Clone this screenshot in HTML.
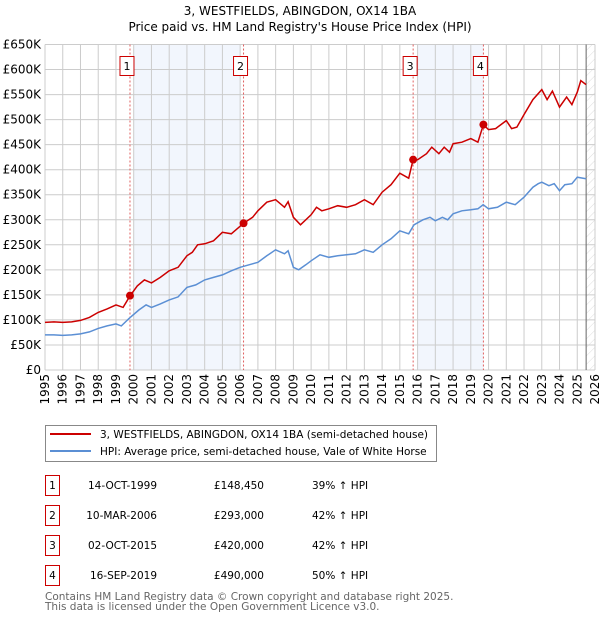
<!DOCTYPE html>
<html><head><meta charset="utf-8"><style>
body{margin:0;background:#fff;}
svg{display:block;font-family:"DejaVu Sans","Liberation Sans",sans-serif;}
</style></head><body>
<svg id="c" width="600" height="620" xmlns="http://www.w3.org/2000/svg">
<defs><pattern id="hatch" width="6" height="6" patternUnits="userSpaceOnUse" patternTransform="rotate(45)"><line x1="0" y1="0" x2="0" y2="6" stroke="#ddd" stroke-width="1"/></pattern></defs>
<text x="300" y="15" text-anchor="middle" font-size="12">3, WESTFIELDS, ABINGDON, OX14 1BA</text>
<text x="300" y="31" text-anchor="middle" font-size="12">Price paid vs. HM Land Registry's House Price Index (HPI)</text>
<g id="plot"></g>
<g>
<rect x="45.5" y="425.5" width="391" height="36" fill="#fff" stroke="#888"/>
<line x1="50" y1="434" x2="91" y2="434" stroke="#cc0000" stroke-width="2"/>
<text x="100" y="438" font-size="10.5">3, WESTFIELDS, ABINGDON, OX14 1BA (semi-detached house)</text>
<line x1="50" y1="451" x2="91" y2="451" stroke="#5b8fd4" stroke-width="2"/>
<text x="100" y="455" font-size="10.5">HPI: Average price, semi-detached house, Vale of White Horse</text>
</g>
<g id="table" font-size="10.5"></g>
<text x="45" y="600" font-size="10.5" fill="#666">Contains HM Land Registry data © Crown copyright and database right 2025.</text>
<text x="45" y="610" font-size="10.5" fill="#666">This data is licensed under the Open Government Licence v3.0.</text>
</svg>
<script>
const hpiYears=[1995,1995.5,1996,1996.5,1997,1997.5,1998,1998.5,1999,1999.3,1999.8,2000.3,2000.7,2001,2001.5,2002,2002.5,2003,2003.5,2004,2004.5,2005,2005.5,2006,2006.5,2007,2007.5,2008,2008.5,2008.7,2009,2009.3,2009.7,2010,2010.5,2011,2011.5,2012,2012.5,2013,2013.5,2014,2014.5,2015,2015.5,2015.8,2016.3,2016.7,2017,2017.4,2017.7,2018,2018.5,2019,2019.4,2019.7,2020,2020.5,2021,2021.5,2022,2022.5,2022.8,2023,2023.4,2023.7,2024,2024.3,2024.7,2025,2025.5];
const hpiValues=[70,70,69,70,72,76,83,88,92,88,105,120,130,125,132,140,146,165,170,180,185,190,198,205,210,215,228,240,232,238,205,200,210,218,230,225,228,230,232,240,235,250,262,278,272,290,300,305,298,305,300,312,318,320,322,330,322,325,335,330,345,365,372,375,368,372,358,370,372,385,382];
const redYears=[1995,1995.5,1996,1996.5,1997,1997.5,1998,1998.5,1999,1999.4,1999.79,2000.2,2000.6,2001,2001.5,2002,2002.5,2003,2003.3,2003.6,2004,2004.5,2005,2005.5,2006.19,2006.7,2007,2007.5,2008,2008.5,2008.7,2009,2009.4,2010,2010.3,2010.6,2011,2011.5,2012,2012.5,2013,2013.5,2014,2014.5,2015,2015.5,2015.75,2016,2016.5,2016.8,2017.2,2017.5,2017.8,2018,2018.5,2019,2019.4,2019.71,2020,2020.4,2021,2021.3,2021.6,2022,2022.5,2023,2023.3,2023.6,2024,2024.4,2024.7,2025,2025.2,2025.5];
const redValues=[95,96,95,96,99,105,115,122,130,125,148,168,180,174,185,198,205,228,235,250,252,258,275,272,293,305,318,335,340,325,336,305,290,310,325,318,322,328,325,330,340,330,355,370,393,383,420,420,432,445,432,445,435,452,455,462,455,490,480,482,498,482,485,510,540,560,540,557,525,545,530,555,578,570];
const yTicks=[0,50,100,150,200,250,300,350,400,450,500,550,600,650];
const xTicks=[1995,1996,1997,1998,1999,2000,2001,2002,2003,2004,2005,2006,2007,2008,2009,2010,2011,2012,2013,2014,2015,2016,2017,2018,2019,2020,2021,2022,2023,2024,2025,2026];
const saleLabels=["1","2","3","4"];
const saleYears=[1999.79,2006.19,2015.75,2019.71];
const saleValues=[148.45,293,420,490];
const saleDates=["14-OCT-1999","10-MAR-2006","02-OCT-2015","16-SEP-2019"];
const salePrices=["£148,450","£293,000","£420,000","£490,000"];
const saleHpi=["39% ↑ HPI","42% ↑ HPI","42% ↑ HPI","50% ↑ HPI"];
const shadeStarts=[2000,2016];
const shadeEnds=[2006,2019.71];

const NS="http://www.w3.org/2000/svg";
const L=45,R=595,T=44.5,B=370;
const X=y=>L+(y-1995)/(2026-1995)*(R-L);
const Y=v=>B-v/650*(B-T);
function mk(tag,attrs,parent){const e=document.createElementNS(NS,tag);for(const k in attrs)e.setAttribute(k,attrs[k]);parent.appendChild(e);return e;}
const g=document.getElementById('plot');
for(let i=0;i<shadeStarts.length;i++){
  const r=mk('rect',{x:X(shadeStarts[i]),y:T,width:X(shadeEnds[i])-X(shadeStarts[i]),height:B-T,fill:'#f2f6fd'},g);
  
  
}
const h=mk('rect',{x:X(2025.5),y:T,width:R-X(2025.5),height:B-T,fill:'url(#hatch)'},g);


yTicks.forEach(v=>{
  mk('line',{x1:L,x2:R,y1:Y(v),y2:Y(v),stroke:'#ccc','stroke-width':1},g);
  const t=mk('text',{x:L-4,y:Y(v)+4,'text-anchor':'end','font-size':12},g);
  t.textContent=v===0?'£0':'£'+v+'K';
  
  
});
xTicks.forEach(yr=>{
  mk('line',{x1:X(yr),x2:X(yr),y1:T,y2:B,stroke:'#ccc','stroke-width':1},g);
  const t=mk('text',{x:X(yr)+4,y:B+4,'text-anchor':'end','font-size':12,transform:`rotate(-90 ${X(yr)+4} ${B+4})`},g);
  t.textContent=yr;
  
  
});
mk('line',{x1:X(2025.5),x2:X(2025.5),y1:T,y2:B,stroke:'#666','stroke-width':1},g);
saleYears.forEach((yr,i)=>{
  const l=mk('line',{x1:X(yr),x2:X(yr),y1:T,y2:B,stroke:'#e06060','stroke-width':1,'stroke-dasharray':'2,2'},g);
  
  
  const bx=mk('rect',{x:X(yr)-10,y:56.5,width:14,height:19,fill:'#fff',stroke:'#cc0000'},g);
  
  
  const t=mk('text',{x:X(yr)-3,y:70,'text-anchor':'middle','font-size':11},g);
  t.textContent=saleLabels[i];
});
function path(xs,vs){return xs.map((x,i)=>(i?'L':'M')+X(x).toFixed(1)+' '+Y(vs[i]).toFixed(1)).join(' ');}
const hp=mk('path',{d:path(hpiYears,hpiValues),fill:'none',stroke:'#5b8fd4','stroke-width':1.5},g);


const rp=mk('path',{d:path(redYears,redValues),fill:'none',stroke:'#cc0000','stroke-width':1.5},g);


saleYears.forEach((yr,i)=>{
  const c=mk('circle',{cx:X(yr),cy:Y(saleValues[i]),r:4,fill:'#cc0000'},g);
  
  
});
const tb=document.getElementById('table');
saleLabels.forEach((lab,i)=>{
  const y=483+i*30;
  const r=mk('rect',{x:45.5,y:y-7.5,width:14,height:20,fill:'#fff',stroke:'#cc0000'},tb);
  
  
  let t=mk('text',{x:52.5,y:y+6,'text-anchor':'middle'},tb);t.textContent=lab;
  t=mk('text',{x:157,y:y+6,'text-anchor':'end'},tb);t.textContent=saleDates[i];
  
  
  t=mk('text',{x:264,y:y+6,'text-anchor':'end'},tb);t.textContent=salePrices[i];
  
  
  t=mk('text',{x:312,y:y+6},tb);t.textContent=saleHpi[i];
  
  
});
</script>
</body></html>
